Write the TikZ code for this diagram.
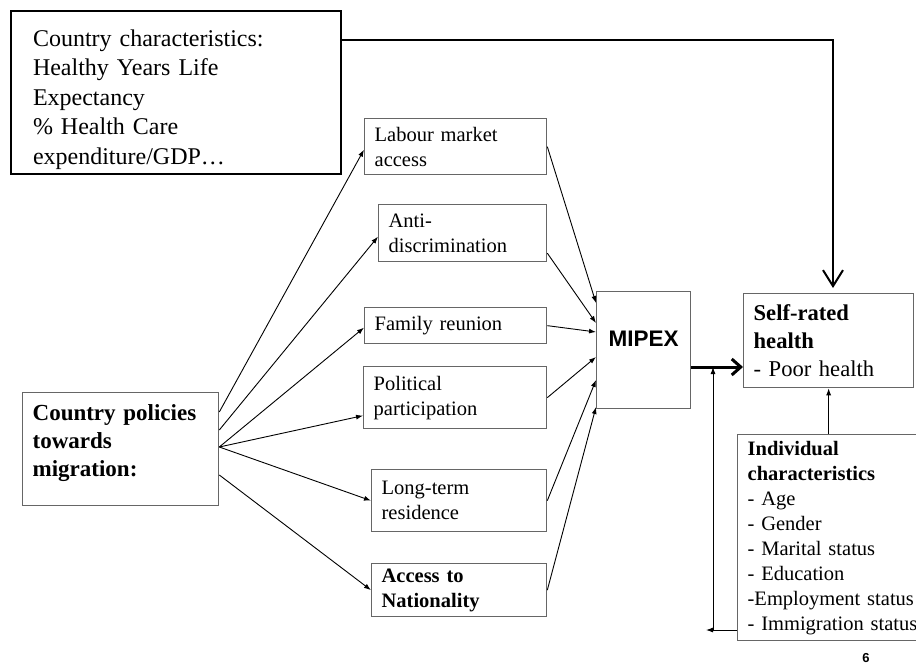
\documentclass[tikz,border=0pt]{standalone}
\usepackage{fontspec}
\setmainfont{Liberation Serif}
\setsansfont{Liberation Sans}
\usetikzlibrary{arrows.meta}
\definecolor{boxgray}{gray}{0.4}

\begin{document}
\begin{tikzpicture}[x=1pt,y=-1pt,>={Latex[length=7pt,width=5pt]},
  box/.style={draw=boxgray,line width=1.3pt,anchor=north west,align=left,inner xsep=10pt,inner ysep=0pt,font=\fontsize{20.5}{25}\selectfont},
  link/.style={->,line width=0.9pt}]
\useasboundingbox (0,0) rectangle (916,666);
\node[box,draw=black,line width=2pt,inner xsep=22pt,text width=286pt,minimum height=163pt,font=\fontsize{24}{29.5}\selectfont] (cc) at (10,10) {\rule{0pt}{31pt}Country characteristics:\\Healthy Years Life\\Expectancy\\\% Health Care\\expenditure/GDP…};
\node[box,text width=162pt,minimum height=56pt] (lab) at (364,118) {Labour market\\access};
\node[box,text width=148pt,minimum height=57pt] (anti) at (378,204) {Anti-\\discrimination};
\node[box,text width=162pt,minimum height=36pt] (fam) at (364,307) {Family reunion};
\node[box,text width=163pt,minimum height=62pt] (pol) at (363,366) {Political\\participation};
\node[box,text width=155pt,minimum height=62pt] (lt) at (371,469) {Long-term\\residence};
\node[box,text width=155pt,minimum height=53pt,font=\bfseries\fontsize{20.5}{25}\selectfont] (nat) at (371,563) {Access to\\Nationality};
\node[box,text width=176pt,minimum height=113pt,font=\bfseries\fontsize{23}{28}\selectfont] (cp) at (22,392) {Country policies\\towards\\migration:\rule[-17pt]{0pt}{1pt}};
\node[box,minimum width=94pt,minimum height=117pt,text height=16pt,text depth=23pt,inner xsep=0pt,align=center,font=\sffamily\bfseries\fontsize{22.5}{27}\selectfont] (mip) at (596,291) {MIPEX};
\node[box,text width=150pt,minimum height=94pt,font=\fontsize{22.6}{28}\selectfont] (sr) at (743,293) {\textbf{Self-rated}\\\textbf{health}\\- Poor health};
\node[box,text width=190pt,minimum height=206pt] (ind) at (737,434) {\textbf{Individual}\\\textbf{characteristics}\\- Age\\- Gender\\- Marital status\\- Education\\-Employment status\\- Immigration status};
\node[font=\sffamily\bfseries\fontsize{13}{13}\selectfont] (pg) at (866,658) {6};

\draw[link] ([yshift=-20pt]cp.north east) -- ([yshift=-3pt]lab.west);
\draw[link] ([yshift=-38pt]cp.north east) -- ([yshift=-3.5pt]anti.west);
\draw[link] ([yshift=-55pt]cp.north east) -- ([yshift=-2pt]fam.west);
\draw[link] ([yshift=-55pt]cp.north east) -- ([yshift=-18pt]pol.west);
\draw[link] ([yshift=-55pt]cp.north east) -- (lt.west);
\draw[link] ([yshift=-83pt]cp.north east) -- (nat.west);

\draw[link] (lab.east) -- ([yshift=-12pt]mip.north west);
\draw[link] ([yshift=-20pt]anti.east) -- ([yshift=-32pt]mip.north west);
\draw[link] (fam.east) -- ([yshift=-41pt]mip.north west);
\draw[link] (pol.east) -- ([yshift=-66pt]mip.north west);
\draw[link] (lt.east) -- ([yshift=-89pt]mip.north west);
\draw[link] (nat.east) -- ([yshift=-116pt]mip.north west);

\draw[line width=3pt,-{Straight Barb[length=9pt,width=16pt]}] ([yshift=-76pt]mip.north east) -- ([yshift=-74pt]sr.north west);

\coordinate (junc) at (713,367);
\coordinate (foot) at (713,630);
\coordinate (lend) at (706,630);
\draw[link] (foot) -- (junc);
\draw[link] ([yshift=-196pt]ind.north west) -- (lend);
\draw[link] (sr.south |- ind.north) -- (sr.south);

\coordinate (bend) at (833,114);
\draw[line width=1.2pt] ([yshift=-30pt]cc.north east) -| (bend);
\draw[line width=2pt,-{Straight Barb[length=16pt,width=20pt]},shorten >=5pt] (bend) -- (sr.north -| bend);
\end{tikzpicture}
\end{document}
